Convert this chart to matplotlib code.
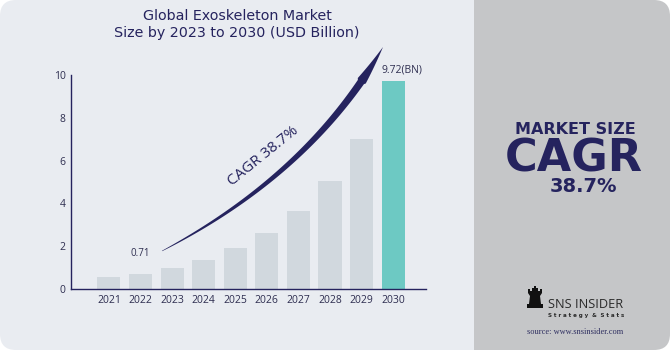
import numpy as np
import matplotlib
matplotlib.use("Agg")
import matplotlib.pyplot as plt
from matplotlib.patches import FancyBboxPatch, Rectangle, Polygon

# data
years = ["2021", "2022", "2023", "2024", "2025", "2026", "2027", "2028", "2029", "2030"]
market_size = [0.58, 0.71, 0.99, 1.37, 1.90, 2.63, 3.65, 5.06, 7.01, 9.72]
y_ticks = [0, 2, 4, 6, 8, 10]
cagr_text = "CAGR 38.7%"

NAVY = "#25235e"
BAR_GREY = "#d1d8de"
TEAL = "#6dc9c3"
BG_LEFT = "#e9ecf1"
BG_RIGHT = "#c5c6c8"

fig = plt.figure(figsize=(6.7, 3.5), dpi=100)
fig.patch.set_facecolor("white")
inch = fig.dpi_scale_trans


def px(x, y):
    # pixel position (top-left origin) -> inches for dpi_scale_trans
    return (x / 100.0, (350 - y) / 100.0)


# background panels (kept below the axes)
fig.patches.append(FancyBboxPatch(px(0, 350), 5.2, 3.5, boxstyle="round,pad=0,rounding_size=0.16",
                                  transform=inch, facecolor=BG_LEFT, edgecolor="none", zorder=-3))
fig.patches.append(FancyBboxPatch(px(474, 350), 1.96, 3.5, boxstyle="round,pad=0,rounding_size=0.16",
                                  transform=inch, facecolor=BG_RIGHT, edgecolor="none", zorder=-2))
fig.patches.append(Rectangle(px(474, 350), 0.4, 3.5, transform=inch,
                             facecolor=BG_RIGHT, edgecolor="none", zorder=-2))

# main axes
ax = fig.add_axes([71 / 670, 61 / 350, 355 / 670, 214 / 350])
ax.set_facecolor("none")
x = np.arange(len(years))
colors = [BAR_GREY] * (len(years) - 1) + [TEAL]
ax.bar(x, market_size, width=0.73, color=colors, zorder=2)
ax.set_xlim(-1.2, 10.04)
ax.set_ylim(0, 10)
ax.set_xticks(x)
ax.set_xticklabels(years)
ax.set_yticks(y_ticks)
for s in ["top", "right"]:
    ax.spines[s].set_visible(False)
for s in ["left", "bottom"]:
    ax.spines[s].set_color(NAVY)
    ax.spines[s].set_linewidth(1.0)
ax.tick_params(length=0, labelsize=7.5, labelcolor="#2e2e50", pad=4)
for lab in ax.get_xticklabels() + ax.get_yticklabels():
    lab.set_fontfamily("Open Sans")

# value labels
ax.text(x[1], market_size[1] + 0.7, f"{market_size[1]:.2f}", ha="center", va="bottom",
        fontsize=7, color="#2e2e50", family="Open Sans")
ax.text(x[-1] - 0.36, market_size[-1] + 0.25, f"{market_size[-1]:.2f}(BN)", ha="left", va="bottom",
        fontsize=7.5, color="#2e2e50", family="Open Sans", clip_on=False)

# curved growth arrow (tapered)
P = np.array([[162, 251], [250, 205], [330, 140], [383, 47]], dtype=float)
t = np.linspace(0, 1, 200)
curve = ((1 - t) ** 3)[:, None] * P[0] + (3 * (1 - t) ** 2 * t)[:, None] * P[1] \
    + (3 * (1 - t) * t ** 2)[:, None] * P[2] + (t ** 3)[:, None] * P[3]
d = np.gradient(curve, axis=0)
d /= np.linalg.norm(d, axis=1)[:, None]
normal = np.column_stack([-d[:, 1], d[:, 0]])
head_start = 0.87
w = np.where(t < head_start, 0.4 + 7.0 * (t / head_start) ** 0.8,
             10.0 * (1 - t) / (1 - head_start))
upper = curve + normal * (w / 2)[:, None]
lower = curve - normal * (w / 2)[:, None]
pts = np.vstack([upper, lower[::-1]])
pts_in = np.column_stack([pts[:, 0] / 100.0, (350 - pts[:, 1]) / 100.0])
fig.patches.append(Polygon(pts_in, closed=True, transform=inch, facecolor=NAVY,
                           edgecolor="none", zorder=3))
fig.text(*px(263, 156), cagr_text, transform=inch, rotation=39, ha="center", va="center",
         fontsize=11, color=NAVY, family="Open Sans")

# title
fig.text(*px(237, 16), "Global Exoskeleton Market", transform=inch, ha="center", va="center",
         fontsize=10.3, color=NAVY, family="DejaVu Sans")
fig.text(*px(237, 33), "Size by 2023 to 2030 (USD Billion)", transform=inch, ha="center",
         va="center", fontsize=10.3, color=NAVY, family="DejaVu Sans")

# right panel
fig.text(*px(575, 134), "MARKET SIZE", transform=inch, ha="center", va="baseline",
         fontsize=11.5, fontweight="bold", color=NAVY, family="DejaVu Sans")
fig.text(*px(574, 171), "CAGR", transform=inch, ha="center", va="baseline",
         fontsize=32, fontweight="bold", color=NAVY, family="DejaVu Sans")
fig.text(*px(583, 192), "38.7%", transform=inch, ha="center", va="baseline",
         fontsize=14, fontweight="bold", color=NAVY, family="DejaVu Sans")

# logo
rook = [(527, 308), (527, 304), (529, 304), (530, 296), (528, 293), (528, 289), (530, 289),
        (530, 291), (532, 291), (532, 288), (534, 288), (534, 286), (536, 286), (536, 288),
        (538, 288), (538, 291), (540, 291), (540, 289), (542, 289), (542, 293), (540, 296),
        (541, 304), (543, 304), (543, 308)]
fig.patches.append(Polygon([px(a, b) for a, b in rook], closed=True, transform=inch,
                           facecolor="#111111", edgecolor="none", zorder=3))
fig.text(*px(548, 304), "SNS INSIDER", transform=inch, ha="left", va="center",
         fontsize=9.2, color="#2a2a2a", family="Open Sans")
fig.text(*px(548, 315), "S t r a t e g y  &  S t a t s", transform=inch, ha="left",
         va="center", fontsize=4.0, color="#2a2a2a", family="DejaVu Sans", fontweight="bold")
fig.text(*px(575, 332), "source: www.snsinsider.com", transform=inch, ha="center", va="center",
         fontsize=6, color="#2e2e60", family="Liberation Serif")

fig.savefig("out.png", dpi=100, facecolor=fig.get_facecolor())
